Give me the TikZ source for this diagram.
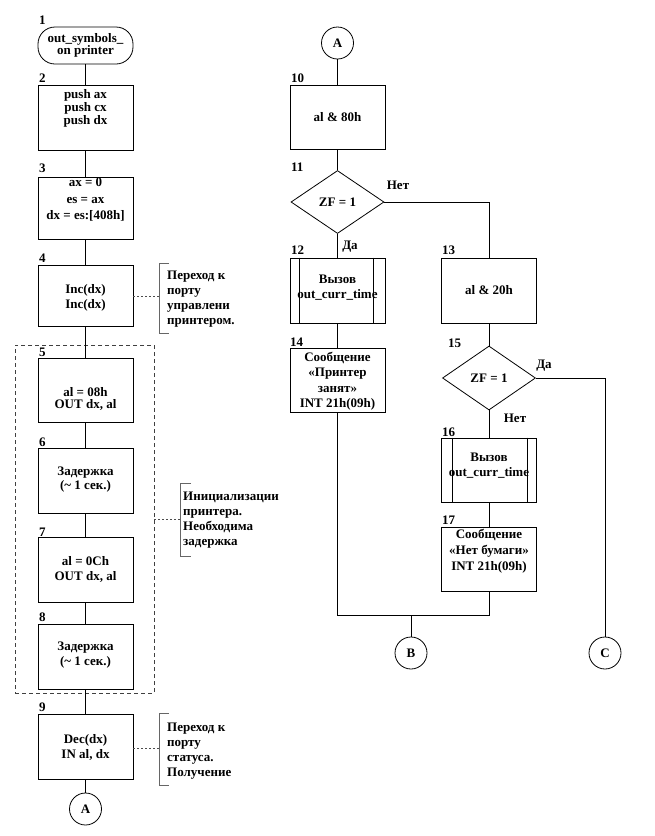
\documentclass[tikz,border=0pt]{standalone}
\usepackage{fontspec}
\setmainfont{Liberation Serif}
\usetikzlibrary{shapes.geometric}
\begin{document}
\begin{tikzpicture}[x=1pt,y=-1pt,
  every node/.style={font=\fontsize{13}{15}\selectfont\bfseries},
  box/.style={draw=black, line width=0.8pt, inner sep=0pt, minimum width=95pt, minimum height=#1},
  box/.default=64pt,
  term/.style={draw=black, line width=0.8pt, rounded corners=17pt, inner sep=0pt, minimum width=95pt, minimum height=37pt},
  dec/.style={draw=black, diamond, line width=0.8pt, inner sep=0pt, minimum width=93pt, minimum height=63pt},
  conn/.style={draw=black, circle, line width=0.8pt, inner sep=0pt, minimum size=32pt},
  txt/.style={align=center, inner sep=0pt, font=\fontsize{13}{#1}\selectfont\bfseries},
  txt/.default=15pt,
  num/.style={anchor=base west, inner sep=0pt},
  yn/.style={inner sep=0pt},
  note/.style={align=left, anchor=west, inner sep=0pt, font=\fontsize{13}{15}\selectfont\bfseries},
  flow/.style={draw=black, line width=0.8pt},
  brk/.style={draw=black!60, line width=0.9pt},
  dotc/.style={draw=black!70, line width=0.7pt, dash pattern=on 2pt off 2pt},
  grp/.style={draw=black!75, line width=0.7pt, dash pattern=on 4pt off 3pt, inner sep=0pt}
]
\useasboundingbox (0,0) rectangle (654,836);

% ---- left column ----
\node[term] (n1) at (85.5,45.5) {};
\node[box=65pt] (n2) at (85.5,117.5) {};
\node[box=62pt] (n3) at (85.5,208) {};
\node[box=61pt] (n4) at (85.5,295.5) {};
\node[grp, minimum width=139pt, minimum height=348pt] (g) at (84.5,519) {};
\node[box=64pt] (n5) at (85.5,390) {};
\node[box=65pt] (n6) at (85.5,480.5) {};
\node[box=65pt] (n7) at (85.5,569.5) {};
\node[box=65pt] (n8) at (85.5,656.5) {};
\node[box=65pt] (n9) at (85.5,746.5) {};
\node[conn] (A1) at (85.5,809) {A};

\node[txt=12pt] (t1) at (85.5,45.5) {out\_symbols\_\\on printer};
\node[txt=11.7pt] (t2) at (85.5,108.5) {push ax\\push cx\\push dx};
\node[txt=16.5pt] (t3) at (85.5,200) {ax = 0\\es = ax\\dx = es:[408h]};
\node[txt=15pt] (t4) at (85.5,297.5) {Inc(dx)\\Inc(dx)};
\node[txt=12pt] (t5) at (85.5,399) {al = 08h\\OUT dx, al};
\node[txt=14pt] (t6) at (85.5,480) {Задержка\\(\textasciitilde{} 1 сек.)};
\node[txt=15pt] (t7) at (85.5,569.5) {al = 0Ch\\OUT dx, al};
\node[txt=15pt] (t8) at (85.5,655.5) {Задержка\\(\textasciitilde{} 1 сек.)};
\node[txt=15pt] (t9) at (85.5,747.5) {Dec(dx)\\IN al, dx};

\node[num] (l1) at (39,24) {1};
\node[num] (l2) at (39,82) {2};
\node[num] (l3) at (39,172) {3};
\node[num] (l4) at (39,262) {4};
\node[num] (l5) at (39,356) {5};
\node[num] (l6) at (39,446) {6};
\node[num] (l7) at (39,536) {7};
\node[num] (l8) at (39,621) {8};
\node[num] (l9) at (39,711) {9};

% comments
\node[note] (c4) at (167,299.5) {Переход к\\порту\\управлени\\принтером.};
\node[note] (c58) at (183,520) {Инициализации\\принтера.\\Необходима\\задержка};
\node[note] (c9) at (167,751.5) {Переход к\\порту\\статуса.\\Получение};
\draw[brk] (169,263) -- (159,263) -- (159,333) -- (169,333);
\draw[brk] (191,483) -- (180,483) -- (180,556) -- (191,556);
\draw[brk] (169,713) -- (159,713) -- (159,785) -- (169,785);
\coordinate (k4) at (159,296);
\coordinate (k58) at (180,519);
\coordinate (k9) at (159,748);
\draw[dotc] (n4.east |- k4) -- (k4);
\draw[dotc] (g.east) -- (k58);
\draw[dotc] (n9.east |- k9) -- (k9);

\draw[flow] (n1.south) -- (n2.north);
\draw[flow] (n2.south) -- (n3.north);
\draw[flow] (n3.south) -- (n4.north);
\draw[flow] (n4.south) -- (n5.north);
\draw[flow] (n5.south) -- (n6.north);
\draw[flow] (n6.south) -- (n7.north);
\draw[flow] (n7.south) -- (n8.north);
\draw[flow] (n8.south) -- (n9.north);
\draw[flow] (n9.south) -- (A1.north);

% ---- right part ----
\node[conn] (A2) at (337.5,43) {A};
\node[box=64pt] (n10) at (337.5,117) {al \& 80h};
\node[dec] (n11) at (337.5,202) {ZF = 1};
\node[box=65pt] (n12) at (337.5,290.5) {};
\node[box=65pt] (n13) at (489,290.5) {al \& 20h};
\node[box=64pt] (n14) at (337.5,380) {};
\node[dec, minimum height=64pt] (n15) at (489,378) {ZF = 1};
\node[box=64pt] (n16) at (489,470) {};
\node[box=64pt] (n17) at (489,559) {};
\node[conn] (B) at (411,653) {B};
\node[conn] (C) at (605,653) {C};

\draw[flow] ([xshift=10pt]n12.north west) -- ([xshift=10pt]n12.south west);
\draw[flow] ([xshift=-12pt]n12.north east) -- ([xshift=-12pt]n12.south east);
\draw[flow] ([xshift=11pt]n16.north west) -- ([xshift=11pt]n16.south west);
\draw[flow] ([xshift=-10pt]n16.north east) -- ([xshift=-10pt]n16.south east);

\node[txt=15pt] (t12) at (337.5,287.5) {Вызов\\out\_curr\_time};
\node[txt=15.5pt] (t14) at (337.5,381) {Сообщение\\«Принтер\\занят»\\INT 21h(09h)};
\node[txt=15pt] (t16) at (489,465.5) {Вызов\\out\_curr\_time};
\node[txt=16pt] (t17) at (489,551) {Сообщение\\«Нет бумаги»\\INT 21h(09h)};

\node[num] (l10) at (291,82) {10};
\node[num] (l11) at (291,171) {11};
\node[num] (l12) at (291,254) {12};
\node[num] (l13) at (442,254) {13};
\node[num] (l14) at (290,346) {14};
\node[num] (l15) at (448,347) {15};
\node[num] (l16) at (442,436) {16};
\node[num] (l17) at (442,524) {17};

\node[yn] (y11n) at (398,185) {Нет};
\node[yn] (y11y) at (350,247) {Да};
\node[yn] (y15y) at (544,366) {Да};
\node[yn] (y15n) at (515,418) {Нет};

\draw[flow] (A2.south) -- (n10.north);
\draw[flow] (n10.south) -- (n11.north);
\draw[flow] (n11.south) -- (n12.north);
\draw[flow] (n11.east) -| (n13.north);
\draw[flow] (n12.south) -- (n14.north);
\draw[flow] (n13.south) -- (n15.north);
\draw[flow] (n15.east) -| (C.north);
\draw[flow] (n15.south) -- (n16.north);
\draw[flow] (n16.south) -- (n17.north);
\coordinate (j14) at (n14.south |- 0,615);
\coordinate (j17) at (n17.south |- 0,615);
\coordinate (jB) at (B.north |- 0,615);
\draw[flow] (n14.south) -- (j14) -- (j17) -- (n17.south);
\draw[flow] (jB) -- (B.north);
\end{tikzpicture}
\end{document}
